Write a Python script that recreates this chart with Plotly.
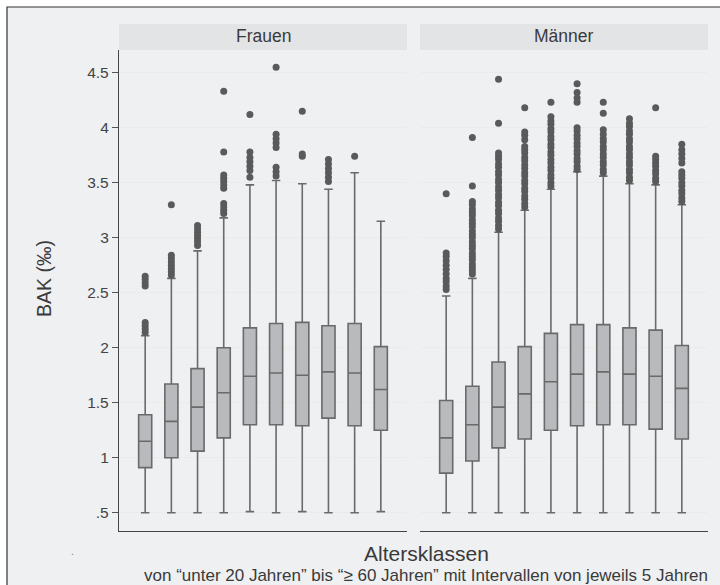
import plotly.graph_objects as go

# ---- data ----
categories = [1, 2, 3, 4, 5, 6, 7, 8, 9, 10]
panels = ["Frauen", "Männer"]

frauen_q1 = [0.91, 1.00, 1.06, 1.18, 1.30, 1.30, 1.29, 1.36, 1.29, 1.25]
frauen_med = [1.15, 1.33, 1.46, 1.59, 1.74, 1.77, 1.75, 1.78, 1.77, 1.62]
frauen_q3 = [1.39, 1.67, 1.81, 2.00, 2.18, 2.22, 2.23, 2.20, 2.22, 2.01]
frauen_lo = [0.50, 0.50, 0.50, 0.50, 0.51, 0.50, 0.51, 0.50, 0.50, 0.51]
frauen_hi = [2.11, 2.63, 2.88, 3.18, 3.48, 3.52, 3.49, 3.44, 3.59, 3.15]
frauen_out = [
    [2.14, 2.17, 2.20, 2.23, 2.56, 2.59, 2.62, 2.65],
    [2.66, 2.69, 2.72, 2.75, 2.78, 2.81, 2.84, 3.30],
    [2.93, 2.96, 2.99, 3.02, 3.05, 3.08, 3.11],
    [3.22, 3.25, 3.28, 3.31, 3.45, 3.48, 3.51, 3.54, 3.57, 3.78, 4.33],
    [3.55, 3.61, 3.65, 3.69, 3.73, 3.78, 4.12],
    [3.56, 3.60, 3.64, 3.82, 3.86, 3.90, 3.94, 4.55],
    [3.74, 3.76, 4.15],
    [3.51, 3.55, 3.59, 3.63, 3.67, 3.71],
    [3.74],
    [],
]

maenner_q1 = [0.86, 0.97, 1.09, 1.17, 1.25, 1.29, 1.30, 1.30, 1.26, 1.17]
maenner_med = [1.18, 1.30, 1.46, 1.58, 1.69, 1.76, 1.78, 1.76, 1.74, 1.63]
maenner_q3 = [1.52, 1.65, 1.87, 2.01, 2.13, 2.21, 2.21, 2.18, 2.16, 2.02]
maenner_lo = [0.50, 0.50, 0.50, 0.50, 0.50, 0.50, 0.50, 0.50, 0.50, 0.50]
maenner_hi = [2.47, 2.63, 3.05, 3.25, 3.44, 3.60, 3.56, 3.49, 3.48, 3.30]
maenner_out = [
    [2.53, 2.56, 2.60, 2.63, 2.67, 2.71, 2.75, 2.79, 2.83, 2.86, 3.40],
    [2.67, 2.70, 2.73, 2.76, 2.80, 2.83, 2.86, 2.90, 2.93, 2.96, 3.00, 3.03,
     3.06, 3.10, 3.13, 3.16, 3.20, 3.23, 3.26, 3.30, 3.33, 3.47, 3.91],
    [3.08, 3.11, 3.15, 3.18, 3.22, 3.25, 3.29, 3.32, 3.36, 3.39, 3.43, 3.46,
     3.50, 3.53, 3.57, 3.60, 3.64, 3.67, 3.71, 3.74, 3.77, 4.04, 4.44],
    [3.28, 3.31, 3.35, 3.38, 3.42, 3.45, 3.49, 3.52, 3.56, 3.59, 3.63, 3.66,
     3.70, 3.73, 3.77, 3.80, 3.83, 3.89, 3.93, 3.96, 4.18],
    [3.47, 3.50, 3.54, 3.57, 3.61, 3.64, 3.68, 3.71, 3.75, 3.78, 3.82, 3.85,
     3.89, 3.92, 3.96, 3.99, 4.03, 4.06, 4.10, 4.23],
    [3.62, 3.65, 3.69, 3.72, 3.76, 3.79, 3.83, 3.86, 3.90, 3.93, 3.97, 4.00,
     4.23, 4.27, 4.32, 4.40],
    [3.59, 3.62, 3.66, 3.69, 3.73, 3.76, 3.80, 3.83, 3.87, 3.90, 3.94, 3.98,
     4.13, 4.23],
    [3.52, 3.55, 3.59, 3.62, 3.66, 3.69, 3.73, 3.76, 3.80, 3.83, 3.87, 3.90,
     3.94, 3.97, 4.01, 4.04, 4.08],
    [3.51, 3.54, 3.58, 3.61, 3.65, 3.68, 3.71, 3.74, 4.18],
    [3.33, 3.36, 3.40, 3.43, 3.47, 3.50, 3.54, 3.57, 3.60, 3.68, 3.72, 3.76,
     3.80, 3.85],
]

ytick_vals = [0.5, 1, 1.5, 2, 2.5, 3, 3.5, 4, 4.5]
ytick_text = [".5", "1", "1.5", "2", "2.5", "3", "3.5", "4", "4.5"]

# ---- style ----
FONT = "Liberation Sans, Arial, sans-serif"
BOX_FILL = "#b9babe"
BOX_LINE = "#6a6a6a"
OUT_COL = "#5a5a5a"
OUTER_BG = "#eff0f2"
PLOT_BG = "#f8f8f8"
STRIP_BG = "#e3e4e6"
GRID = "#ebebeb"
TEXT = "#3a3a3a"

W, H = 720, 585
def px_x(p):
    return p / W
def px_y(p):
    return 1 - p / H

fig = go.Figure()

sets = [
    (frauen_q1, frauen_med, frauen_q3, frauen_lo, frauen_hi, frauen_out, "x", "y"),
    (maenner_q1, maenner_med, maenner_q3, maenner_lo, maenner_hi, maenner_out, "x2", "y2"),
]
for q1, med, q3, lo, hi, outs, xa, ya in sets:
    fig.add_trace(go.Box(
        x=categories, q1=q1, median=med, q3=q3, lowerfence=lo, upperfence=hi,
        boxpoints=False, width=0.5, whiskerwidth=0.65,
        fillcolor=BOX_FILL, line=dict(color=BOX_LINE, width=1.6),
        xaxis=xa, yaxis=ya, showlegend=False, hoverinfo="skip",
    ))
    ox, oy = [], []
    for c, vals in zip(categories, outs):
        for v in vals:
            ox.append(c)
            oy.append(v)
    fig.add_trace(go.Scatter(
        x=ox, y=oy, mode="markers",
        marker=dict(color=OUT_COL, size=7, line=dict(width=0)),
        xaxis=xa, yaxis=ya, showlegend=False, hoverinfo="skip",
    ))

left_dom = [px_x(119), px_x(407)]
right_dom = [px_x(420), px_x(708)]
y_dom = [px_y(531), px_y(50)]
yrange = [0.334, 4.706]

xcommon = dict(range=[0, 11], showticklabels=False, ticks="", showgrid=False,
               zeroline=False, showline=True, linecolor="#444", linewidth=1.3)
fig.update_layout(
    width=W, height=H,
    margin=dict(l=0, r=0, t=0, b=0),
    paper_bgcolor="white",
    plot_bgcolor=PLOT_BG,
    font=dict(family=FONT, color=TEXT),
    xaxis=dict(domain=left_dom, anchor="y", **xcommon),
    xaxis2=dict(domain=right_dom, anchor="y2", **xcommon),
    yaxis=dict(domain=y_dom, anchor="x", range=yrange, tickmode="array",
               tickvals=ytick_vals, ticktext=ytick_text, ticks="outside",
               ticklen=6, tickcolor="#555", tickfont=dict(size=15.5, color="#444"),
               showline=True, linecolor="#444", linewidth=1.3,
               showgrid=True, gridcolor=GRID, gridwidth=1, zeroline=False),
    yaxis2=dict(domain=y_dom, anchor="x2", range=yrange, tickmode="array",
                tickvals=ytick_vals, showticklabels=False, ticks="",
                showline=False, showgrid=True, gridcolor=GRID, gridwidth=1,
                zeroline=False),
)

shapes = [
    # outer framed background
    dict(type="rect", xref="paper", yref="paper", x0=px_x(7), x1=1.02,
         y0=-0.02, y1=px_y(7), fillcolor=OUTER_BG,
         line=dict(color="#333", width=1.2), layer="below"),
    # strips
    dict(type="rect", xref="paper", yref="paper", x0=left_dom[0], x1=left_dom[1],
         y0=px_y(50), y1=px_y(24), fillcolor=STRIP_BG, line=dict(width=0)),
    dict(type="rect", xref="paper", yref="paper", x0=right_dom[0], x1=right_dom[1],
         y0=px_y(50), y1=px_y(24), fillcolor=STRIP_BG, line=dict(width=0)),
]
fig.update_layout(shapes=shapes)

ann = [
    dict(text=panels[0], x=sum(left_dom) / 2, y=px_y(36), xref="paper", yref="paper",
         showarrow=False, font=dict(size=17.5, color=TEXT), xanchor="center", yanchor="middle"),
    dict(text=panels[1], x=sum(right_dom) / 2, y=px_y(36), xref="paper", yref="paper",
         showarrow=False, font=dict(size=17.5, color=TEXT), xanchor="center", yanchor="middle"),
    dict(text="BAK (‰)", x=px_x(44), y=px_y(279), xref="paper", yref="paper",
         showarrow=False, textangle=-90, font=dict(size=19.5, color=TEXT),
         xanchor="center", yanchor="middle"),
    dict(text="Altersklassen", x=px_x(426), y=px_y(553), xref="paper", yref="paper",
         showarrow=False, font=dict(size=21, color=TEXT), xanchor="center", yanchor="middle"),
    dict(text="von “unter 20 Jahren” bis “≥ 60 Jahren” mit Intervallen von jeweils 5 Jahren",
         x=px_x(425.5), y=px_y(575), xref="paper", yref="paper",
         showarrow=False, font=dict(size=17, color=TEXT), xanchor="center", yanchor="middle"),
    dict(text=".", x=px_x(72), y=px_y(551), xref="paper", yref="paper",
         showarrow=False, font=dict(size=10, color="#777"), xanchor="center", yanchor="middle"),
]
fig.update_layout(annotations=ann)

fig.write_html("out.html")
